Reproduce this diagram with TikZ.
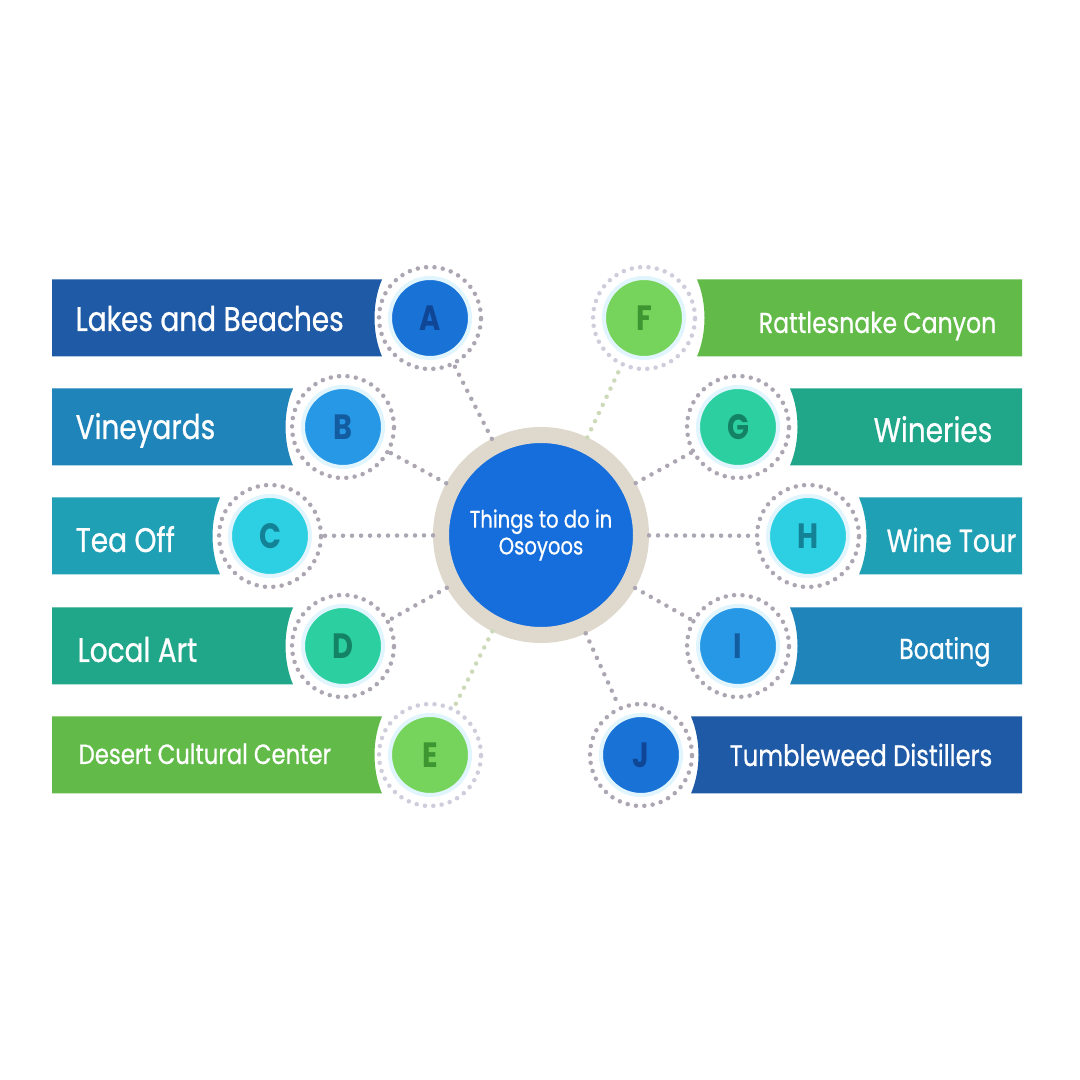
\documentclass[tikz,border=0pt]{standalone}
\usepackage{fontspec}
\setmainfont[FakeStretch=0.82]{Poppins}
\newfontfamily\bandfont[FakeStretch=0.82,FakeBold=0.7]{Poppins}
\usetikzlibrary{positioning}
\definecolor{navybar}{RGB}{31,90,166}
\definecolor{navydot}{RGB}{25,115,215}
\definecolor{navytxt}{RGB}{16,70,150}
\definecolor{bluebar}{RGB}{30,132,186}
\definecolor{bluedot}{RGB}{38,152,230}
\definecolor{bluetxt}{RGB}{20,92,160}
\definecolor{cyanbar}{RGB}{32,160,180}
\definecolor{cyandot}{RGB}{44,208,226}
\definecolor{cyantxt}{RGB}{20,130,150}
\definecolor{jadebar}{RGB}{32,166,136}
\definecolor{jadedot}{RGB}{44,208,160}
\definecolor{jadetxt}{RGB}{20,130,100}
\definecolor{leafbar}{RGB}{98,186,72}
\definecolor{leafdot}{RGB}{118,212,92}
\definecolor{leaftxt}{RGB}{62,150,50}
\definecolor{hubblue}{RGB}{22,110,220}
\definecolor{hubring}{RGB}{222,216,205}
\definecolor{ringgray}{RGB}{172,166,178}
\definecolor{ringpale}{RGB}{205,205,220}
\definecolor{linkpale}{RGB}{205,218,185}
\newcommand{\lband}[3]{\fill[#1] (0.52,#2-0.385) -- (#3,#2-0.385) .. controls (#3-0.1,#2-0.15) and (#3-0.1,#2+0.15) .. (#3,#2+0.385) -- (0.52,#2+0.385) -- cycle;}
\newcommand{\rband}[3]{\fill[#1] (10.22,#2-0.385) -- (#3,#2-0.385) .. controls (#3+0.1,#2-0.15) and (#3+0.1,#2+0.15) .. (#3,#2+0.385) -- (10.22,#2+0.385) -- cycle;}
\tikzset{
  lbl/.style={text=white,inner sep=0pt,font=\bandfont\fontsize{9.7}{11}\selectfont},
  slbl/.style={text=white,inner sep=0pt,font=\bandfont\fontsize{8.2}{10}\selectfont},
  dot/.style={circle,inner sep=0pt,minimum size=0.8cm,draw=cyan!12,line width=0.04cm,font=\bfseries\fontsize{10}{12}\selectfont},
  dring/.style={circle,inner sep=0pt,minimum size=1.02cm,draw=ringgray,line width=0.045cm,line cap=round,dash pattern=on 0pt off 0.084cm},
  link/.style={draw=ringgray,line width=0.045cm,line cap=round,dash pattern=on 0pt off 0.09cm},
  hub/.style={circle,fill=hubblue,draw=hubring,line width=0.16cm,minimum size=2.0cm,inner sep=0pt,align=center,text=white,font=\bandfont\fontsize{6.8}{7.6}\selectfont}
}
\begin{document}
\begin{tikzpicture}
  \fill[white] (0,0) rectangle (10.8,10.8);
  \useasboundingbox (0,0) rectangle (10.8,10.8);
  \lband{navybar}{7.62}{3.82} \lband{bluebar}{6.53}{2.93} \lband{cyanbar}{5.44}{2.20} \lband{jadebar}{4.34}{2.93} \lband{leafbar}{3.25}{3.82}
  \rband{leafbar}{7.62}{6.97} \rband{jadebar}{6.53}{7.90} \rband{cyanbar}{5.44}{8.59} \rband{bluebar}{4.34}{7.90} \rband{navybar}{3.25}{6.91}
  \node[lbl,anchor=base west] (tA) at (0.75,7.49) {Lakes and Beaches};
  \node[lbl,anchor=base west] (tB) at (0.75,6.41) {Vineyards};
  \node[lbl,anchor=base west] (tC) at (0.75,5.28) {Tea Off};
  \node[lbl,anchor=base west] (tD) at (0.77,4.18) {Local Art};
  \node[slbl,font=\bandfont\fontsize{7.9}{10}\selectfont,anchor=base west] (tE) at (0.78,3.16) {Desert Cultural Center};
  \node[slbl,anchor=base east] (tF) at (9.97,7.47) {Rattlesnake Canyon};
  \node[lbl,anchor=base east] (tG) at (9.93,6.38) {Wineries};
  \node[lbl,font=\bandfont\fontsize{9.1}{11}\selectfont,anchor=base east] (tH) at (10.17,5.28) {Wine Tour};
  \node[slbl,anchor=base east] (tI) at (9.91,4.21) {Boating};
  \node[slbl,font=\bandfont\fontsize{8.4}{10}\selectfont,anchor=base east] (tJ) at (9.93,3.14) {Tumbleweed Distillers};
  \node[dot,fill=navydot,text=navytxt] (A) at (4.30,7.62) {A}; \node[dring] (rA) at (A) {};
  \node[dot,fill=bluedot,text=bluetxt] (B) at (3.43,6.53) {B}; \node[dring] (rB) at (B) {};
  \node[dot,fill=cyandot,text=cyantxt] (C) at (2.70,5.44) {C}; \node[dring] (rC) at (C) {};
  \node[dot,fill=jadedot,text=jadetxt] (D) at (3.43,4.34) {D}; \node[dring] (rD) at (D) {};
  \node[dot,fill=leafdot,text=leaftxt] (E) at (4.30,3.25) {E}; \node[dring,draw=ringpale] (rE) at (E) {};
  \node[dot,fill=leafdot,text=leaftxt] (F) at (6.44,7.62) {F}; \node[dring,draw=ringpale] (rF) at (F) {};
  \node[dot,fill=jadedot,text=jadetxt] (G) at (7.38,6.53) {G}; \node[dring] (rG) at (G) {};
  \node[dot,fill=cyandot,text=cyantxt] (H) at (8.08,5.44) {H}; \node[dring] (rH) at (H) {};
  \node[dot,fill=bluedot,text=bluetxt] (I) at (7.38,4.34) {I}; \node[dring] (rI) at (I) {};
  \node[dot,fill=navydot,text=navytxt] (J) at (6.41,3.25) {J}; \node[dring] (rJ) at (J) {};
  \node[hub] (hub) at (5.41,5.45) {Things to do in\\Osoyoos};
  \draw[link] (hub) -- (rA); \draw[link] (hub) -- (rB); \draw[link] (hub) -- (rC); \draw[link] (hub) -- (rD); \draw[link,draw=linkpale] (hub) -- (rE);
  \draw[link,draw=linkpale] (hub) -- (rF); \draw[link] (hub) -- (rG); \draw[link] (hub) -- (rH); \draw[link] (hub) -- (rI); \draw[link] (hub) -- (rJ);
\end{tikzpicture}
\end{document}
